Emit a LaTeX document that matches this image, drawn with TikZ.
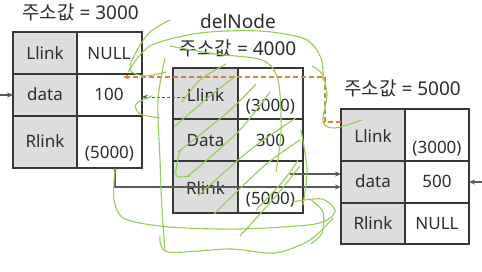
\documentclass[tikz,border=0pt]{standalone}
\usepackage{fontspec}
\setmainfont{Noto Sans}
\newfontfamily\kr{Noto Sans CJK KR}
\usetikzlibrary{arrows.meta}
\definecolor{cellgray}{RGB}{221,221,221}
\definecolor{edge}{RGB}{55,55,55}
\definecolor{txt}{RGB}{45,45,45}
\definecolor{conn}{RGB}{90,90,90}
\definecolor{orng}{RGB}{226,128,58}
\definecolor{scrib}{RGB}{150,205,85}
\begin{document}
\begin{tikzpicture}[x=1pt,y=-1pt,
  cellbase/.style={draw=edge,line width=1.2pt,anchor=north west,inner sep=0pt,outer sep=0pt},
  gcell/.style={cellbase,fill=cellgray},
  wcell/.style={cellbase,fill=white},
  celltxt/.style={text=txt,font=\fontsize{17}{18}\selectfont,inner sep=0pt,text height=12.4pt,text depth=0pt},
  titletxt/.style={text=txt,font=\fontsize{19}{20}\selectfont,inner sep=0pt,text height=13.6pt,text depth=0pt},
  conline/.style={draw=conn,line width=1.1pt,-{Stealth[length=6pt,width=5pt]}},
  dashline/.style={conline,dashed,dash pattern=on 3pt off 2pt,line width=0.9pt},
  orline/.style={draw=orng,line width=1.4pt,dash pattern=on 5pt off 3pt,-{Stealth[length=6pt,width=5pt]}},
  scribble/.style={draw=scrib,line width=1.1pt,line cap=round,line join=round}]
\useasboundingbox[fill=white] (0,0) rectangle (482,272);

% ---------- node at 3000 ----------
\node[titletxt] (t1) at (80.5,13) {{\kr 주소값} = 3000};
\node[gcell,minimum width=64pt,minimum height=42pt] (aLl) at (13,32) {};
\node[wcell,minimum width=65pt,minimum height=42pt] (aLr) at (77,32) {};
\node[gcell,minimum width=64pt,minimum height=42pt] (aDl) at (13,74) {};
\node[wcell,minimum width=65pt,minimum height=42pt] (aDr) at (77,74) {};
\node[gcell,minimum width=64pt,minimum height=52pt] (aRl) at (13,116) {};
\node[wcell,minimum width=65pt,minimum height=52pt] (aRr) at (77,116) {};
\node[celltxt] at (45,53) {Llink};
\node[celltxt] at (109,53) {NULL};
\node[celltxt] at (45,94) {data};
\node[celltxt] at (109,94) {100};
\node[celltxt] at (45,141) {Rlink};
\node[celltxt] at (109.5,152) {(5000)};

% ---------- node at 4000 ----------
\node[titletxt] (t2a) at (238,22) {delNode};
\node[titletxt] (t2) at (238,49) {{\kr 주소값} = 4000};
\node[gcell,minimum width=65pt,minimum height=51pt] (bLl) at (173,68) {};
\node[wcell,minimum width=65pt,minimum height=51pt] (bLr) at (238,68) {};
\node[gcell,minimum width=65pt,minimum height=42pt] (bDl) at (173,119) {};
\node[wcell,minimum width=65pt,minimum height=42pt] (bDr) at (238,119) {};
\node[gcell,minimum width=65pt,minimum height=52pt] (bRl) at (173,161) {};
\node[wcell,minimum width=65pt,minimum height=52pt] (bRr) at (238,161) {};
\node[celltxt] at (205.5,95) {Llink};
\node[celltxt] at (270.5,105) {(3000)};
\node[celltxt] at (205.5,140) {Data};
\node[celltxt] at (270.5,140) {300};
\node[celltxt] at (205.5,188) {Rlink};
\node[celltxt] at (270.5,198) {(5000)};

% ---------- node at 5000 ----------
\node[titletxt] (t3) at (402.5,89) {{\kr 주소값} = 5000};
\node[gcell,minimum width=64pt,minimum height=52pt] (cLl) at (341,109) {};
\node[wcell,minimum width=64pt,minimum height=52pt] (cLr) at (405,109) {};
\node[gcell,minimum width=64pt,minimum height=42pt] (cDl) at (341,161) {};
\node[wcell,minimum width=64pt,minimum height=42pt] (cDr) at (405,161) {};
\node[gcell,minimum width=64pt,minimum height=41pt] (cRl) at (341,203) {};
\node[wcell,minimum width=64pt,minimum height=41pt] (cRr) at (405,203) {};
\node[celltxt] at (373,136) {Llink};
\node[celltxt] at (437,147) {(3000)};
\node[celltxt] at (373,181) {data};
\node[celltxt] at (437,181) {500};
\node[celltxt] at (373,223) {Rlink};
\node[celltxt] at (437,223) {NULL};

% ---------- connectors ----------
\coordinate (inL) at (0,95);
\coordinate (inR) at (482,182);
\draw[conline] (inL) -- (inL -| aDl.west);
\draw[conline] (inR) -- (inR -| cDr.east);

\coordinate (dsrc) at (185,97);
\draw[dashline] (dsrc) -- (dsrc -| aDr.east);

\coordinate (o1) at (341,122);
\coordinate (o2) at (325,122);
\coordinate (o3) at (325,77);
\coordinate (o4) at (123,77);
\draw[orline] (o1) -- (o2) -- (o3) -- (o4);

\coordinate (r2) at (290,174);
\draw[conline] (r2) -- (r2 -| cDl.west);
\coordinate (r1a) at (115,168);
\coordinate (r1b) at (115,187);
\draw[conline] (r1a) -- (r1b) -- (r1b -| cDl.west);

% ---------- green hand scribbles ----------
\draw[scribble] plot[smooth] coordinates {(170,20) (150,32) (136,52) (130,70) (145,76) (166,72)};
\draw[scribble] plot[smooth] coordinates {(152,96) (136,104) (140,114) (160,118)};
\draw[scribble] plot[smooth] coordinates {(128,72) (150,46) (200,33) (260,31) (305,39) (321,58) (323,80)};
\draw[scribble] plot[smooth] coordinates {(170,46) (215,54) (262,60) (278,80) (281,130) (276,172)};
\draw[scribble] plot[smooth] coordinates {(165,58) (158,100) (160,160) (162,210) (165,250)};
\draw[scribble] plot[smooth] coordinates {(115,170) (114,200) (125,219) (170,227) (240,229) (315,224) (335,212) (322,199) (292,202)};
\draw[scribble] plot[smooth] coordinates {(160,236) (168,252) (230,249) (275,253) (310,240) (333,218)};
\draw[scribble] plot[smooth] coordinates {(301,130) (307,170) (303,205)};
\draw[scribble] plot[smooth] coordinates {(312,66) (322,74) (327,95) (323,122) (335,128) (362,120)};
\draw[scribble] plot[smooth] coordinates {(311,200) (323,212) (322,233) (311,244)};
\draw[scribble] plot[smooth] coordinates {(178,152) (228,112) (256,84)};
\draw[scribble] plot[smooth] coordinates {(188,176) (238,132) (270,92)};
\draw[scribble] plot[smooth] coordinates {(198,196) (250,150) (296,118)};
\draw[scribble] plot[smooth] coordinates {(214,214) (264,166) (300,140)};
\draw[scribble] plot[smooth] coordinates {(240,236) (276,196) (300,166)};
\draw[scribble] plot[smooth] coordinates {(175,126) (210,96) (236,76)};
\draw[scribble] plot[smooth] coordinates {(182,102) (200,80) (226,64)};
\draw[scribble] plot[smooth] coordinates {(256,210) (284,180) (298,160)};
\draw[scribble] plot[smooth] coordinates {(180,150) (176,175) (190,176)};
\end{tikzpicture}
\end{document}
